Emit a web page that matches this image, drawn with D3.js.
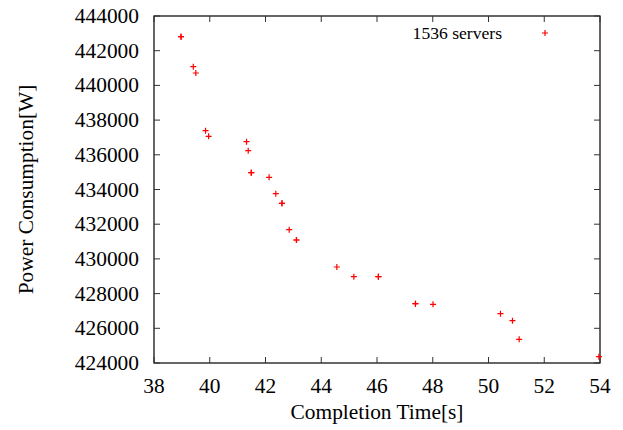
<!DOCTYPE html>
<html>
<head>
<meta charset="utf-8">
<script src="https://cdn.jsdelivr.net/npm/d3@7"></script>
<style>
  html, body { margin: 0; padding: 0; background: #fff; }
  svg text { font-family: "Liberation Serif", "DejaVu Serif", serif; fill: #000; }
</style>
</head>
<body>
<svg id="chart" width="623" height="430"></svg>
<script>
// Completion time (s) vs power consumption (W), 1536 servers
const completionTime = [
  38.97, 38.97, 39.41, 39.50, 39.85, 39.96, 41.32, 41.38, 41.49, 41.49,
  42.13, 42.37, 42.59, 42.59, 42.85, 43.11, 43.11, 44.56, 45.17, 46.05,
  46.05, 47.38, 47.38, 48.01, 50.43, 50.86, 51.10, 53.96
];
const powerConsumption = [
  442807, 442807, 441078, 440715, 437390, 437066, 436755, 436236, 434968, 434968,
  434700, 433758, 433204, 433204, 431684, 431089, 431089, 429533, 428974, 428974,
  428974, 427418, 427418, 427380, 426841, 426438, 425366, 424363
];
const xTicks = [38, 40, 42, 44, 46, 48, 50, 52, 54];
const yTicks = [424000, 426000, 428000, 430000, 432000, 434000, 436000, 438000, 440000, 442000, 444000];
const seriesName = "1536 servers";

const margin = { top: 16, right: 23, bottom: 67, left: 154 };
const width = 623, height = 430;
const svg = d3.select("#chart");

const x = d3.scaleLinear().domain([38, 54]).range([margin.left, width - margin.right]);
const y = d3.scaleLinear().domain([424000, 444000]).range([height - margin.bottom, margin.top]);

const tickLen = 6;
const fontSize = 21.4;

// frame
svg.append("rect")
  .attr("x", x(38)).attr("y", y(444000))
  .attr("width", x(54) - x(38)).attr("height", y(424000) - y(444000))
  .attr("fill", "none").attr("stroke", "#000").attr("stroke-width", 1.2);

// inward ticks, mirrored on all four sides
const ticks = svg.append("g").attr("stroke", "#333").attr("stroke-width", 1);
xTicks.forEach(t => {
  ticks.append("line").attr("x1", x(t)).attr("x2", x(t))
    .attr("y1", y(424000)).attr("y2", y(424000) - tickLen);
  ticks.append("line").attr("x1", x(t)).attr("x2", x(t))
    .attr("y1", y(444000)).attr("y2", y(444000) + tickLen);
});
yTicks.forEach(t => {
  ticks.append("line").attr("x1", x(38)).attr("x2", x(38) + tickLen)
    .attr("y1", y(t)).attr("y2", y(t));
  ticks.append("line").attr("x1", x(54)).attr("x2", x(54) - tickLen)
    .attr("y1", y(t)).attr("y2", y(t));
});

// tick labels
svg.append("g").selectAll("text").data(xTicks).join("text")
  .attr("x", d => x(d)).attr("y", y(424000) + 30)
  .attr("text-anchor", "middle").attr("font-size", fontSize)
  .text(d => d);

svg.append("g").selectAll("text").data(yTicks).join("text")
  .attr("x", x(38) - 15).attr("y", d => y(d) + 7)
  .attr("text-anchor", "end").attr("font-size", fontSize)
  .text(d => d);

// axis titles
svg.append("text")
  .attr("x", (x(38) + x(54)) / 2).attr("y", 419)
  .attr("text-anchor", "middle").attr("font-size", fontSize)
  .text("Completion Time[s]");

svg.append("text")
  .attr("transform", `translate(33,${(y(424000) + y(444000)) / 2}) rotate(-90)`)
  .attr("text-anchor", "middle").attr("font-size", fontSize)
  .text("Power Consumption[W]");

// points as "+" markers
const arm = 3;
const cross = (g, cx, cy) => {
  g.append("path")
    .attr("d", `M${cx - arm},${cy}H${cx + arm}M${cx},${cy - arm}V${cy + arm}`)
    .attr("stroke", "#ff0000").attr("stroke-width", 1.2).attr("fill", "none");
};
const pts = svg.append("g");
completionTime.forEach((t, i) => cross(pts, x(t), y(powerConsumption[i])));

// legend
svg.append("text")
  .attr("x", 502).attr("y", 39)
  .attr("text-anchor", "end").attr("font-size", 17.6)
  .text(seriesName);
cross(svg.append("g"), 545, 33);
</script>
</body>
</html>
